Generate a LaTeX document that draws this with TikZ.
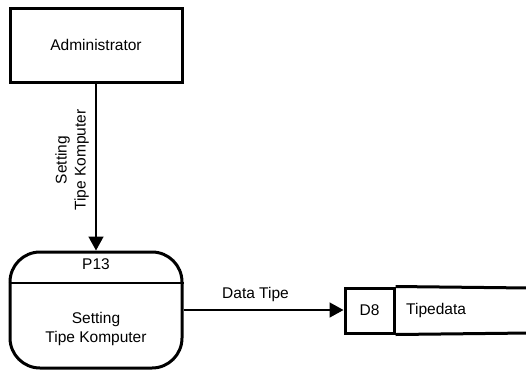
\documentclass[tikz,border=0pt]{standalone}
\usepackage{fontspec}
\setmainfont{Liberation Sans}
\usetikzlibrary{arrows.meta}
\begin{document}
\begin{tikzpicture}[x=1pt,y=-1pt,
  every node/.style={font=\fontsize{15.5}{19}\selectfont, inner sep=0pt},
  thickbox/.style={draw, line width=3pt},
  flow/.style={line width=1.6pt, -{Triangle[length=14pt,width=15pt]}},
  lbl/.style={align=center}]
\useasboundingbox (0,0) rectangle (526,370);
\node[thickbox, minimum width=172pt, minimum height=74pt] (adm) at (96,45) {Administrator};
\node[thickbox, rounded corners=30pt, minimum width=172pt, minimum height=116pt] (proc) at (96,310) {};
\draw[line width=2.4pt] (proc.west |- 0,283) -- (proc.east |- 0,283);
\node (pid) at (96,264) {P13};
\node[lbl] (pname) at (96,329) {Setting\\Tipe Komputer};
\node[thickbox, minimum width=49pt, minimum height=45pt] (d8) at (369.5,310.5) {D8};
\draw[line width=3pt] (d8.north east) -- (529,288);
\draw[line width=3pt] (d8.south east) -- (529,333);
\node[anchor=west] (tipedata) at (406,310.5) {Tipedata};
\node[lbl, rotate=90] (l1) at (72,160) {Setting\\Tipe Komputer};
\draw[flow] (adm.south) -- (proc.north);
\draw[flow] (proc.east) -- (proc.east -| d8.west) node[pos=0.45, above=7pt] (l2) {Data Tipe};
\end{tikzpicture}
\end{document}
